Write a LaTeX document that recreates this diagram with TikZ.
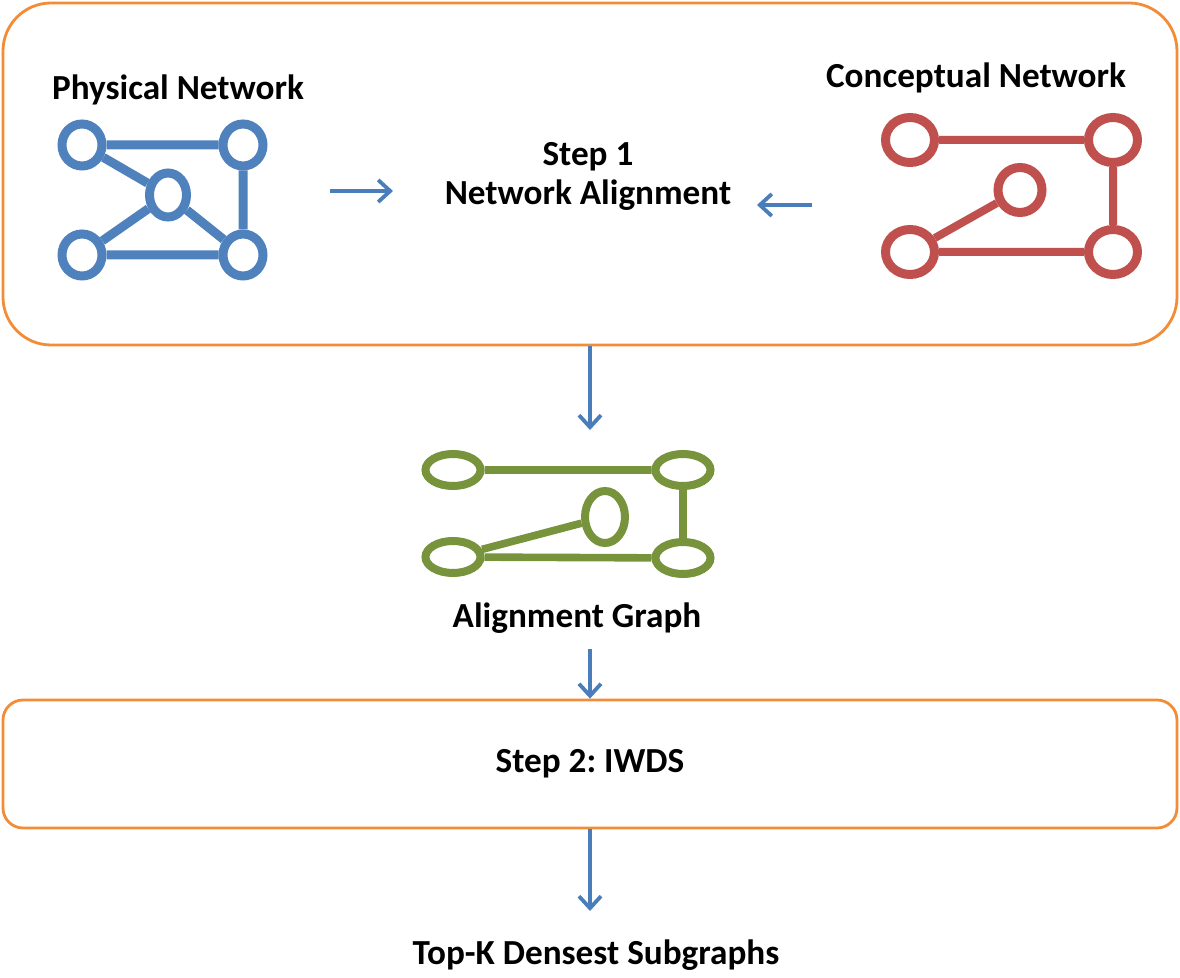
\documentclass[tikz,border=0pt]{standalone}
\usepackage{fontspec}
\setmainfont{Carlito}
\usetikzlibrary{shapes.geometric,arrows.meta}
\frenchspacing

\definecolor{netblue}{RGB}{79,129,189}
\definecolor{netred}{RGB}{192,80,77}
\definecolor{netgreen}{RGB}{119,147,60}
\definecolor{boxorange}{RGB}{243,140,55}
\definecolor{arrowblue}{RGB}{74,126,187}

\tikzset{
  vtx/.style={ellipse, draw, line width=4.5pt, inner sep=0pt},
  stage/.style={draw=boxorange, line width=1.4pt, minimum width=587pt, inner sep=0pt},
  txt/.style={font=\fontsize{17.6}{19.5}\selectfont\bfseries, align=center},
  flow/.style={-{Straight Barb[length=6pt,width=11pt]}, line width=1.9pt, arrowblue},
}

\begin{document}
\begin{tikzpicture}[x=0.5pt,y=-0.5pt]
  \useasboundingbox (0,0) rectangle (1180,978);

  % step 1 box
  \node[stage, rounded corners=24pt, minimum height=171pt] (stepone) at (590,174) {};
  \node[txt] (physlbl) at (178,90) {Physical Network};
  \node[txt] (conclbl) at (976,78) {Conceptual Network};
  \node[txt] (alignlbl) at (588,176) {Step 1\\Network Alignment};

  % physical network
  \begin{scope}[netblue]
    \node[vtx, minimum width=20pt, minimum height=21pt] (p1) at (82,145) {};
    \node[vtx, minimum width=20pt, minimum height=21pt] (p2) at (243,145) {};
    \node[vtx, minimum width=18.5pt, minimum height=22pt] (p3) at (168,195) {};
    \node[vtx, minimum width=20pt, minimum height=21pt] (p4) at (82,255) {};
    \node[vtx, minimum width=20pt, minimum height=21pt] (p5) at (243,255) {};
    \draw[line width=4.5pt] (p1) -- (p2) (p2) -- (p5) (p4) -- (p5)
      (p1) -- (p3) (p3) -- (p5) (p4) -- (p3);
  \end{scope}

  % conceptual network
  \begin{scope}[netred]
    \node[vtx, minimum width=24.5pt, minimum height=22.5pt] (c1) at (910,140) {};
    \node[vtx, minimum width=24.5pt, minimum height=22.5pt] (c2) at (1113,140) {};
    \node[vtx, minimum width=22pt, minimum height=22.5pt] (c3) at (1020,190) {};
    \node[vtx, minimum width=24.5pt, minimum height=22.5pt] (c4) at (910,252) {};
    \node[vtx, minimum width=24.5pt, minimum height=22.5pt] (c5) at (1113,252) {};
    \draw[line width=4pt] (c1) -- (c2) (c2) -- (c5) (c4) -- (c5) (c4) -- (c3);
  \end{scope}

  \coordinate (inl) at (330,191);
  \coordinate (inlend) at (393,191);
  \coordinate (inr) at (812,205);
  \coordinate (inrend) at (757,205);
  \draw[flow] (inl) -- (inlend);
  \draw[flow] (inr) -- (inrend);

  % alignment graph
  \begin{scope}[netgreen]
    \node[vtx, line width=4pt, minimum width=27.5pt, minimum height=16pt] (g1) at (453,470) {};
    \node[vtx, line width=4pt, minimum width=27.5pt, minimum height=16pt] (g2) at (683,470) {};
    \node[vtx, line width=4pt, minimum width=20pt, minimum height=26pt] (g3) at (605,517) {};
    \node[vtx, line width=4pt, minimum width=27.5pt, minimum height=16pt] (g4) at (453,557) {};
    \node[vtx, line width=4pt, minimum width=27.5pt, minimum height=16pt] (g5) at (683,558) {};
    \draw[line width=3.8pt] (g1) -- (g2) (g2) -- (g5) (g4) -- (g5) (g4) -- (g3);
  \end{scope}
  \node[txt] (graphlbl) at (577,618) {Alignment Graph};

  % step 2 box
  \node[stage, rounded corners=10pt, minimum height=64pt, txt] (steptwo) at (590,764) {Step 2: IWDS};
  \node[txt] (result) at (596,955) {Top-K Densest Subgraphs};

  \coordinate (gin) at (590,430);
  \coordinate (gout) at (590,649);
  \coordinate (rin) at (590,911);
  \draw[flow] (stepone.south) -- (gin);
  \draw[flow] (gout) -- (steptwo.north);
  \draw[flow] (steptwo.south) -- (rin);
\end{tikzpicture}
\end{document}
